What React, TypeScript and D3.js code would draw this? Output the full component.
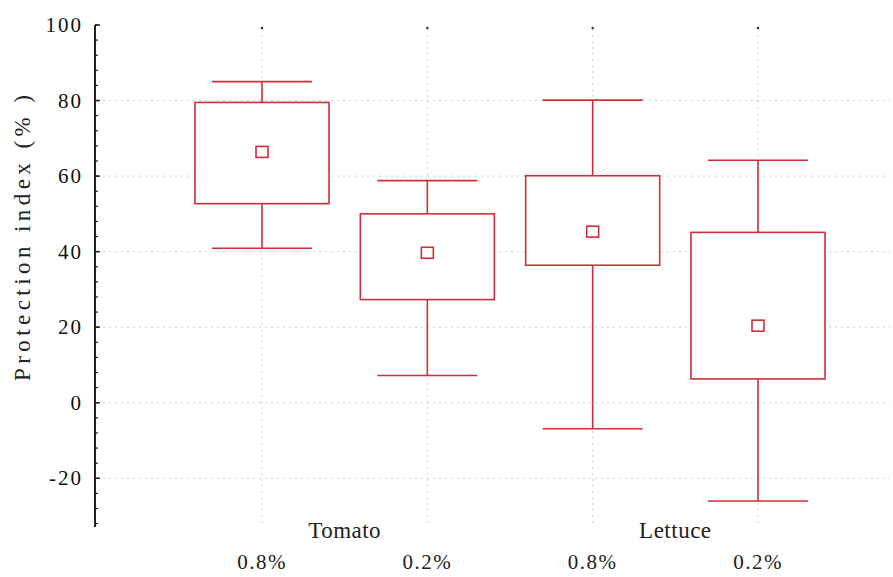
import React from "react";
import * as d3 from "d3";

const groups = ["Tomato 0.8%", "Tomato 0.2%", "Lettuce 0.8%", "Lettuce 0.2%"];
const doseLabels = ["0.8%", "0.2%", "0.8%", "0.2%"];
const cropLabels = ["Tomato", "Lettuce"];
const means = [66.4, 39.7, 45.3, 20.4];
const boxTop = [79.5, 50.0, 60.1, 45.1];
const boxBottom = [52.7, 27.3, 36.4, 6.3];
const whiskerTop = [85.0, 58.8, 80.1, 64.2];
const whiskerBottom = [40.9, 7.2, -6.9, -26.0];
const yTicks = [100, 80, 60, 40, 20, 0, -20];
const gridValues = [80, 60, 40, 20, 0, -20];

const W = 893;
const H = 577;
const RED = "#cf2f3a";

export default function App() {
  const y = d3.scaleLinear().domain([-32.9, 100]).range([527, 25]);
  const x = d3.scalePoint<string>().domain(groups).range([262, 758]);
  const minorTicks = d3.range(-32, 101, 4);
  const axisX = 95;
  const boxW = 134;
  const capW = 100;
  const mk = 12;

  return (
    <svg width={W} height={H} style={{ position: "absolute", left: 0, top: 0, background: "#fff" }}>
      {/* grid */}
      {gridValues.map((v) => (
        <line key={"h" + v} x1={axisX + 2} x2={890} y1={y(v)} y2={y(v)} stroke="#d0d0d0" strokeWidth={1} strokeDasharray="2,4" />
      ))}
      {groups.map((g) => (
        <g key={"v" + g}>
          <line x1={x(g)!} x2={x(g)!} y1={y(100) + 4} y2={527} stroke="#d0d0d0" strokeWidth={1} strokeDasharray="2,4" />
          <circle cx={x(g)!} cy={y(100) + 3} r={1.2} fill="#333" />
        </g>
      ))}
      {/* y axis */}
      <line x1={axisX} x2={axisX} y1={y(100)} y2={527} stroke="#222" strokeWidth={2} />
      {minorTicks.map((v) => (
        <line key={"m" + v} x1={axisX} x2={axisX + 3} y1={y(v)} y2={y(v)} stroke="#222" strokeWidth={1.2} />
      ))}
      {yTicks.map((v) => (
        <g key={"t" + v}>
          <line x1={axisX} x2={axisX + 5} y1={y(v)} y2={y(v)} stroke="#222" strokeWidth={1.5} />
          <text x={83} y={y(v) + 7} textAnchor="end" fontFamily="Liberation Serif" fontSize={21} letterSpacing={2} fill="#111">
            {v}
          </text>
        </g>
      ))}
      <text
        transform={`translate(30, ${238}) rotate(-90)`}
        textAnchor="middle"
        fontFamily="Liberation Serif"
        fontSize={23}
        fill="#222"
        textLength={286}
      >
        Protection index (% )
      </text>
      {/* boxes */}
      {groups.map((g, i) => {
        const cx = x(g)!;
        return (
          <g key={"b" + g} stroke={RED} strokeWidth={1.6} fill="none">
            <line x1={cx} x2={cx} y1={y(whiskerTop[i])} y2={y(boxTop[i])} />
            <line x1={cx} x2={cx} y1={y(boxBottom[i])} y2={y(whiskerBottom[i])} />
            <line x1={cx - capW / 2} x2={cx + capW / 2} y1={y(whiskerTop[i])} y2={y(whiskerTop[i])} />
            <line x1={cx - capW / 2} x2={cx + capW / 2} y1={y(whiskerBottom[i])} y2={y(whiskerBottom[i])} />
            <rect x={cx - boxW / 2} y={y(boxTop[i])} width={boxW} height={y(boxBottom[i]) - y(boxTop[i])} fill="#fff" />
            <rect x={cx - mk / 2} y={y(means[i]) - mk / 2 + 0.5} width={mk} height={mk - 1} fill="#fff" />
          </g>
        );
      })}
      {/* x labels */}
      {cropLabels.map((c, k) => {
        const cx = (x(groups[2 * k])! + x(groups[2 * k + 1])!) / 2;
        return (
          <text key={c} x={cx} y={538} textAnchor="middle" fontFamily="Liberation Serif" fontSize={23} fill="#222" letterSpacing={0.5}>
            {c}
          </text>
        );
      })}
      {groups.map((g, i) => (
        <text key={"d" + g} x={x(g)!} y={569} textAnchor="middle" fontFamily="Liberation Serif" fontSize={21} fill="#222" letterSpacing={1.5}>
          {doseLabels[i]}
        </text>
      ))}
    </svg>
  );
}
